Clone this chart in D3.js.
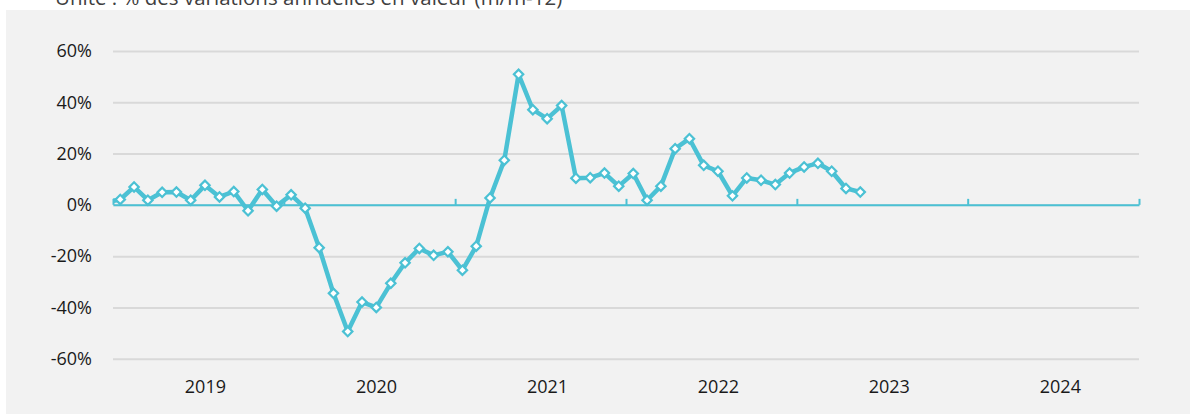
<!DOCTYPE html>
<html>
<head>
<meta charset="utf-8">
<script src="https://cdn.jsdelivr.net/npm/d3@7"></script>
<style>
  body { margin: 0; background: #fff; }
  svg { display: block; font-family: "Open Sans", sans-serif; }
</style>
</head>
<body>
<svg width="1190" height="415"></svg>
<script>
// values: % change year on year, monthly, Dec 2018 -> May 2023
let firstMonth = new Date(2018, 11, 1);
let values = [1.0,
  2.1, 7.0, 1.8, 4.9, 5.0, 1.8, 7.6, 3.1, 5.2, -2.3, 6.0, -0.5,
  3.9, -1.3, -16.7, -34.5, -49.4, -37.9, -40.0, -30.6, -22.6, -17.0, -19.7, -18.3,
  -25.5, -16.1, 2.7, 17.4, 50.9, 37.1, 33.6, 38.7, 10.4, 10.6, 12.4, 7.3,
  12.2, 1.8, 7.3, 21.9, 25.8, 15.4, 13.1, 3.5, 10.5, 9.6, 7.9, 12.4,
  14.8, 16.2, 13.1, 6.4, 5.0];
let years = ['2019', '2020', '2021', '2022', '2023', '2024'];
let yTicks = [-60, -40, -20, 0, 20, 40, 60];
let title = 'Unité : % des variations annuelles en valeur (m/m-12)';

let svg = d3.select('svg');
let teal = '#4bc1d4';

let scaleX = d3.scaleTime()
    .domain([new Date(+years[0], 0, 1), new Date(+years[years.length - 1] + 1, 0, 1)])
    .range([113, 1139]);
let scaleY = d3.scaleLinear().domain([-60, 60]).range([358.7, 51]);

// middle of a month
let midX = d => (scaleX(d) + scaleX(d3.timeMonth.offset(d, 1))) / 2;

let data = values.map((v, i) => ({ date: d3.timeMonth.offset(firstMonth, i), value: v }));

// background panel
svg.append('rect')
    .attr('x', 6).attr('y', 10)
    .attr('width', 1184).attr('height', 404)
    .attr('fill', '#f2f2f2');

svg.append('text')
    .attr('x', 55).attr('y', 4.5)
    .attr('font-size', 20.5)
    .attr('fill', '#404040')
    .text(title);

// gridlines + y labels
let yAxis = svg.append('g')
    .attr('transform', 'translate(113,0)')
    .call(d3.axisLeft(scaleY)
        .tickValues(yTicks)
        .tickSize(-(1139 - 113))
        .tickPadding(21)
        .tickFormat(d => d + '%'));
yAxis.select('.domain').remove();
yAxis.selectAll('line').attr('stroke', '#d9d9d9').attr('stroke-width', 2);
yAxis.selectAll('text')
    .attr('font-size', 18)
    .attr('font-family', '"Open Sans", sans-serif')
    .attr('fill', '#1a1a1a');

// zero axis with year ticks
let xAxis = svg.append('g')
    .attr('transform', 'translate(0,' + scaleY(0) + ')')
    .call(d3.axisTop(scaleX)
        .tickValues(d3.range(years.length + 1).map(i => new Date(+years[0] + i, 0, 1)))
        .tickSize(6)
        .tickSizeOuter(0)
        .tickFormat(''));
xAxis.select('.domain').attr('stroke', teal).attr('stroke-width', 2);
xAxis.selectAll('line').attr('stroke', teal).attr('stroke-width', 2);

// year labels
svg.selectAll('.year')
    .data(years)
    .enter()
    .append('text')
    .attr('class', 'year')
    .attr('x', d => (scaleX(new Date(+d, 0, 1)) + scaleX(new Date(+d + 1, 0, 1))) / 2 + 7)
    .attr('y', 393)
    .attr('text-anchor', 'middle')
    .attr('font-size', 18)
    .attr('fill', '#1a1a1a')
    .text(d => d);

svg.append('clipPath').attr('id', 'plot')
  .append('rect')
    .attr('x', 113).attr('y', 0)
    .attr('width', 1139 - 113).attr('height', 415);

let plot = svg.append('g').attr('clip-path', 'url(#plot)');

let lineFn = d3.line()
    .x(d => midX(d.date))
    .y(d => scaleY(d.value));

plot.append('path')
    .datum(data)
    .attr('d', lineFn)
    .attr('fill', 'none')
    .attr('stroke', teal)
    .attr('stroke-width', 4.5)
    .attr('stroke-linejoin', 'round');

let diamond = d3.symbol().type(d3.symbolSquare).size(44);

plot.selectAll('.marker')
    .data(data)
    .enter()
    .append('path')
    .attr('class', 'marker')
    .attr('d', diamond)
    .attr('transform', d => 'translate(' + midX(d.date) + ',' + scaleY(d.value) + ') rotate(45)')
    .attr('fill', '#fff')
    .attr('stroke', teal)
    .attr('stroke-width', 2.2);
</script>
</body>
</html>
